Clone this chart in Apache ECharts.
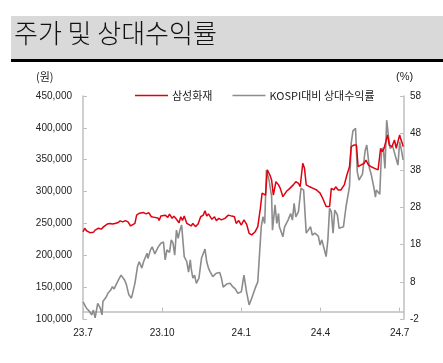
<!DOCTYPE html>
<html><head><meta charset="utf-8">
<script src="https://cdn.jsdelivr.net/npm/echarts@6/dist/echarts.min.js"></script>
<style>html,body{margin:0;padding:0;background:#fff}#c{width:443px;height:363px}</style>
</head><body><div id="c"></div>
<script>
// x = days since 2023-07-01
const tickLabels = ['23.7', '23.10', '24.1', '24.4', '24.7'];
const priceDays = [0,2,4,6,8,10,12,14,16,18,21,24,26,28,31,34,37,40,43,46,49,52,55,57,60,62,65,67,70,73,76,79,83,87,88,90,95,98,100,103,105,108,111,113,115,117,120,122,125,127,130,133,136,139,141,143,145,149,152,154,157,160,164,168,172,175,177,180,183,186,189,192,195,199,202,205,207,209,211,213,216,218,220,223,226,228,231,235,239,243,246,249,251,254,256,258,262,266,270,274,277,281,285,287,290,292,295,298,302,305,308,310,313,316,318,321,325,327,330,333,337,341,343,344,346,348,352,354,357,360,362,366,367,369,370];
const priceVals = [237000,242500,238500,241000,235500,238500,236000,239500,238500,242500,241000,245000,242500,249000,250000,249000,250000,251000,254000,252500,254500,252500,246000,245000,250000,263000,266000,264500,267000,265000,267000,260500,259500,258000,254500,261500,263000,259500,264500,258000,261500,256500,251000,260500,254500,261500,250000,252500,246000,250000,245000,249000,260500,263000,270000,261500,265000,256500,260500,254500,258000,255500,258000,263000,261500,260500,250000,254500,247500,255500,249000,234500,232000,237000,245000,273500,297500,300000,294500,334000,326000,318000,294500,315500,310500,305000,292000,300000,305000,310500,315500,313000,307500,344500,336500,310500,307500,305000,302500,297500,289500,276500,276500,305000,302500,307500,302500,302500,310500,326000,339000,370500,373000,373000,339000,341500,344500,349500,341500,339000,336500,334000,335000,368000,362500,368000,389000,373000,370500,381000,368000,389000,383500,376000,370500];
const relDays = [0,2,4,7,10,12,14,17,20,22,23,25,27,29,32,34,36,38,41,44,46,48,50,53,56,60,63,65,68,70,74,75,78,80,83,87,90,93,95,97,100,102,104,106,108,110,112,114,117,120,122,124,125,127,129,131,134,137,141,143,145,147,150,154,158,160,162,166,170,173,176,179,183,186,189,192,195,199,201,202,206,208,210,212,215,218,219,222,224,226,227,231,233,237,240,242,244,246,249,251,252,255,258,260,263,265,268,272,274,276,278,281,283,285,287,289,291,294,296,301,304,308,310,312,315,317,319,323,326,328,331,333,336,338,339,341,343,345,347,349,351,353,355,358,360,364,366,368,370];
const relVals = [2.6,2.7,0.9,0.2,-0.9,0.4,-1.7,2.2,0.9,-0.9,2.7,3.1,4.0,5.0,5.8,6.7,6.1,7.1,8.5,9.8,9.8,8.5,7.4,4.5,3.6,7.6,12.1,13.4,11.7,13.4,15.7,14.3,16.6,17.4,15.5,17.4,18.4,18.7,13.9,16.6,15.9,19.3,18.4,15.2,21.9,19.7,21.9,23.3,14.8,13.4,10.6,13.9,11.6,9.0,9.8,7.6,9.0,14.4,16.8,13.4,11.7,10.7,9.4,10.3,10.5,9.0,6.6,7.4,7.6,6.7,6.1,4.9,5.3,9.8,5.3,1.8,3.6,6.3,5.8,8.0,22.8,25.5,23.7,38.1,35.4,30.9,21.9,28.7,23.7,26.4,22.8,20.1,22.8,24.6,26.4,24.6,29.1,25.5,26.9,27.3,33.2,32.7,21.1,21.5,22.8,20.6,21.1,20.3,17.9,19.3,17.5,14.8,19.3,27.8,26.9,21.1,27.3,26.0,22.4,22.8,28.2,33.6,45.3,48.6,49.3,37.6,35.4,37.0,43.2,44.8,38.6,37.0,33.6,30.8,32.7,33.0,31.6,43.0,44.1,38.5,51.5,47.2,43.9,44.4,44.4,39.4,45.7,43.5,40.8];

const FONT = '"Liberation Sans", Arial, "Noto Sans CJK KR", sans-serif';
const KFONT = '"Noto Sans CJK KR", "Liberation Sans", sans-serif';
const axisCol = '#bfbfbf';
const chart = echarts.init(document.getElementById('c'));
chart.setOption({
  animation: false,
  graphic: [
    {type: 'rect', shape: {x: 11, y: 16, width: 432, height: 43}, style: {fill: '#d9d9d9'}, silent: true},
    {type: 'rect', shape: {x: 11, y: 59, width: 432, height: 3}, style: {fill: '#000'}, silent: true},
    {type: 'text', left: 14, top: 20, style: {text: '주가 및 상대수익률', font: '300 26px ' + KFONT, fill: '#111'}},
    {type: 'text', left: 36, top: 71, style: {text: '(원)', font: '11px ' + KFONT, fill: '#222'}},
    {type: 'text', left: 396, top: 71, style: {text: '(%)', font: '11px ' + FONT, fill: '#222'}}
  ],
  legend: {
    left: 130, top: 85, itemGap: 20, itemWidth: 33, itemHeight: 1.5, icon: 'rect',
    textStyle: {fontFamily: KFONT, fontSize: 11, color: '#222', padding: [0,0,0,-1]},
    data: ['삼성화재', 'KOSPI대비 상대수익률']
  },
  grid: {left: 83, right: 39, top: 96, bottom: 44},
  xAxis: {
    type: 'value', min: 0, max: 371, interval: 91.5,
    axisLine: {lineStyle: {color: axisCol, width: 1.5}},
    axisTick: {inside: true, length: 4, lineStyle: {color: axisCol}},
    splitLine: {show: false},
    axisLabel: {
      margin: 9, fontFamily: FONT, fontSize: 10, color: '#222', showMaxLabel: false,
      formatter: function (v) {
        const i = Math.round(v / 91.5);
        return Math.abs(v - i * 91.5) < 0.5 && tickLabels[i] ? tickLabels[i] : '';
      }
    }
  },
  yAxis: [
    {
      type: 'value', min: 100000, max: 450000, interval: 50000, position: 'left',
      axisLine: {show: true, lineStyle: {color: axisCol, width: 1.5}},
      axisTick: {show: true, inside: true, length: 4, lineStyle: {color: axisCol}},
      splitLine: {show: false},
      axisLabel: {margin: 11, fontFamily: FONT, fontSize: 10, color: '#222',
        formatter: v => v.toLocaleString('en-US')}
    },
    {
      type: 'value', min: -2, max: 58, interval: 10, position: 'right',
      axisLine: {show: true, lineStyle: {color: axisCol, width: 1.5}},
      axisTick: {show: true, inside: true, length: 4, lineStyle: {color: axisCol}},
      splitLine: {show: false},
      axisLabel: {margin: 6, fontFamily: FONT, fontSize: 10, color: '#222'}
    }
  ],
  series: [
    {
      name: 'KOSPI대비 상대수익률', type: 'line', yAxisIndex: 1, showSymbol: false, z: 2,
      data: relDays.map((d, i) => [d, relVals[i]]),
      lineStyle: {color: '#8c8c8c', width: 1.6}, itemStyle: {color: '#8c8c8c'}
    },
    {
      name: '삼성화재', type: 'line', yAxisIndex: 0, showSymbol: false, z: 3,
      data: priceDays.map((d, i) => [d, priceVals[i]]),
      lineStyle: {color: '#e00010', width: 1.5}, itemStyle: {color: '#e00010'}
    }
  ]
});
</script></body></html>
